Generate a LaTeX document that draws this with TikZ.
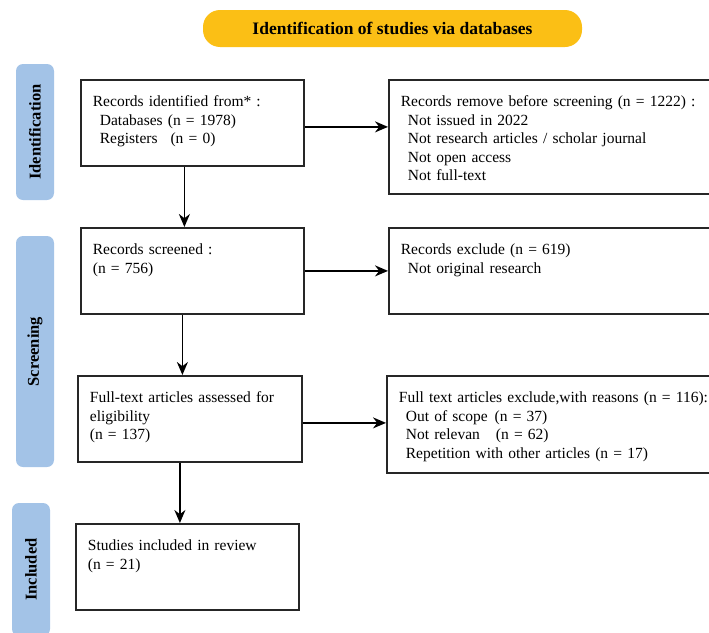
\documentclass[tikz,border=0pt]{standalone}
\usepackage{fontspec}
\setmainfont{Liberation Serif}
\usetikzlibrary{arrows.meta}

\definecolor{titlegold}{HTML}{FBBF15}
\definecolor{phaseblue}{HTML}{A3C3E7}
\newcommand{\indnt}{\hspace*{7pt}}

\begin{document}
\begin{tikzpicture}[x=1pt, y=-1pt,
    title/.style={fill=titlegold, rounded corners=17pt, minimum width=379pt, minimum height=37pt, inner sep=0pt, font=\bfseries\fontsize{17.5}{20}\selectfont},
    phase/.style={fill=phaseblue, rounded corners=7pt, rotate=90, minimum height=38pt, inner sep=0pt, font=\bfseries\fontsize{16.5}{19}\selectfont},
    recbox/.style={draw=black!85, line width=1.8pt, anchor=north west, align=left, inner xsep=12pt, inner ysep=0pt, text height=27pt, font=\fontsize{15.5}{18.5}\selectfont},
    flow/.style={-{Stealth[length=13pt,width=11pt]}, line width=1.8pt}]
        \clip (0,0) rectangle (709,632);

        \node[title] (title) at (392.5,28.5) {Identification of studies via databases};

        % Phase bars on the left
        \node[phase, minimum width=136pt] (sideid) at (35,132) {Identification};
        \node[phase, minimum width=231pt] (sidescr) at (35,351.5) {Screening};
        \node[phase, minimum width=133pt] (sideinc) at (31,569.5) {Included};

        % Main column
        \node[recbox, text width=199pt, text depth=59pt] (ident) at (80,79)
            {Records identified from* :\\ \indnt Databases (n = 1978)\\ \indnt Registers\hspace{13pt}(n = 0)};
        \node[recbox, text width=199pt, text depth=59pt] (screened) at (80,227)
            {Records screened :\\(n = 756)};
        \node[recbox, text width=200pt, text depth=59pt] (fulltext) at (77,375)
            {Full-text articles assessed for\\eligibility\\(n = 137)};
        \node[recbox, text width=199pt, text depth=59pt] (included) at (75,523)
            {Studies included in review\\(n = 21)};

        % Exclusions on the right
        \node[recbox, text width=330pt, text depth=87pt] (removed) at (388,79)
            {Records remove before screening (n = 1222) :\\ \indnt Not issued in 2022\\ \indnt Not research articles / scholar journal\\ \indnt Not open access\\ \indnt Not full-text};
        \node[recbox, text width=330pt, text depth=59pt] (excluded) at (388,227)
            {Records exclude (n = 619)\\ \indnt Not original research};
        \node[recbox, text width=330pt, text depth=70pt] (ftexcl) at (386,375)
            {Full text articles exclude,with reasons (n = 116):\\ \indnt Out of scope\hspace{7pt}(n = 37)\\ \indnt Not relevan\hspace{16pt}(n = 62)\\ \indnt Repetition with other articles (n = 17)};

        % Flow arrows
        \draw[flow] ([yshift=-4pt]ident.east) -- ([yshift=-4pt]ident.east -| removed.west);
        \draw[flow] (screened.east) -- (screened.east -| excluded.west);
        \draw[flow] ([yshift=-4pt]fulltext.east) -- ([yshift=-4pt]fulltext.east -| ftexcl.west);
        \draw[flow] ([xshift=-8pt]ident.south) -- ([xshift=-8pt]ident.south |- screened.north);
        \draw[flow] ([xshift=-10pt]screened.south) -- ([xshift=-10pt]screened.south |- fulltext.north);
        \draw[flow] ([xshift=-10pt]fulltext.south) -- ([xshift=-10pt]fulltext.south |- included.north);
    \end{tikzpicture}
\end{document}
